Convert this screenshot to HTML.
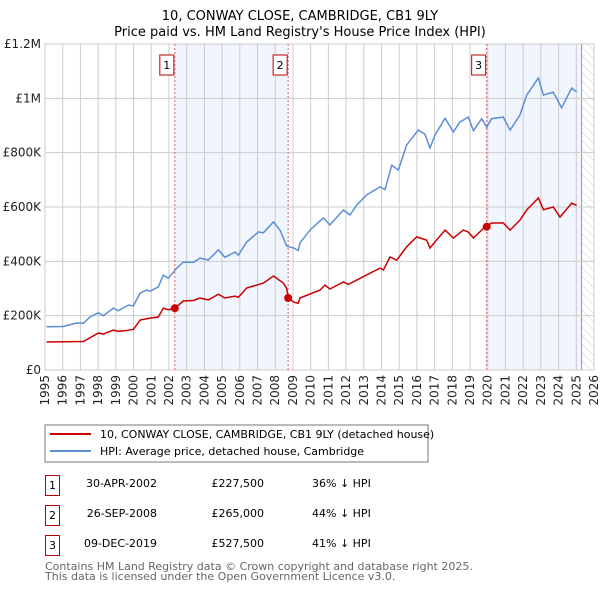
<!DOCTYPE html>
<html><head><meta charset="utf-8"><style>
body{margin:0;background:#fff;}
svg{display:block;font-family:"DejaVu Sans","Liberation Sans",sans-serif;}
</style></head><body>
<svg id="chart" width="600" height="590" viewBox="0 0 600 590" xmlns="http://www.w3.org/2000/svg">
<defs>
<pattern id="hatch" width="6" height="6" patternUnits="userSpaceOnUse" patternTransform="rotate(-45)">
<line x1="0" y1="0" x2="0" y2="6" stroke="#ccc" stroke-width="1"/>
</pattern>
</defs>
<text x="300" y="20" text-anchor="middle" font-size="13" fill="#000">10, CONWAY CLOSE, CAMBRIDGE, CB1 9LY</text>
<text x="300" y="36" text-anchor="middle" font-size="13" fill="#000">Price paid vs. HM Land Registry's House Price Index (HPI)</text>
<g id="plot"></g>
<g id="legend">
<rect x="45" y="425" width="383" height="37" fill="#fff" stroke="#777"/>
<line x1="50" y1="434" x2="91" y2="434" stroke="#cc0000" stroke-width="2"/>
<text x="100" y="438" font-size="11">10, CONWAY CLOSE, CAMBRIDGE, CB1 9LY (detached house)</text>
<line x1="50" y1="451" x2="91" y2="451" stroke="#5b8fd4" stroke-width="2"/>
<text x="100" y="455" font-size="11">HPI: Average price, detached house, Cambridge</text>
</g>
<g id="table" font-size="11">
<rect x="45.5" y="475.5" width="14" height="20" fill="#fff" stroke="#b00"/>
<text x="52.5" y="489" text-anchor="middle">1</text>
<text x="157" y="487" text-anchor="end">30-APR-2002</text>
<text x="264" y="487" text-anchor="end">£227,500</text>
<text x="312" y="487">36% ↓ HPI</text>
<rect x="45.5" y="505.5" width="14" height="20" fill="#fff" stroke="#b00"/>
<text x="52.5" y="519" text-anchor="middle">2</text>
<text x="157" y="517" text-anchor="end">26-SEP-2008</text>
<text x="264" y="517" text-anchor="end">£265,000</text>
<text x="312" y="517">44% ↓ HPI</text>
<rect x="45.5" y="535.5" width="14" height="20" fill="#fff" stroke="#b00"/>
<text x="52.5" y="549" text-anchor="middle">3</text>
<text x="157" y="547" text-anchor="end">09-DEC-2019</text>
<text x="264" y="547" text-anchor="end">£527,500</text>
<text x="312" y="547">41% ↓ HPI</text>
</g>
<text x="45" y="570" font-size="11" fill="#666">Contains HM Land Registry data © Crown copyright and database right 2025.</text>
<text x="45" y="580" font-size="11" fill="#666">This data is licensed under the Open Government Licence v3.0.</text>
</svg>
<script>
const hpiYears=[1995.09,1996.03,1996.79,1997.17,1997.54,1998.01,1998.30,1998.86,1999.14,1999.71,1999.99,2000.37,2000.74,2000.93,2001.40,2001.68,2001.96,2002.44,2002.81,2003.38,2003.75,2004.22,2004.79,2005.16,2005.73,2005.92,2006.39,2007.05,2007.33,2007.90,2008.27,2008.65,2009.03,2009.30,2009.40,2009.96,2010.72,2011.09,2011.85,2012.22,2012.60,2013.16,2013.92,2014.20,2014.58,2014.95,2015.42,2016.08,2016.46,2016.74,2017.02,2017.59,2018.06,2018.43,2018.90,2019.19,2019.66,2019.94,2020.22,2020.88,2021.26,2021.82,2022.20,2022.86,2023.14,2023.70,2024.17,2024.74,2025.02];
const hpiValues=[159,160,173,172,195,210,200,228,218,239,236,283,294,290,306,349,338,375,397,396,412,405,442,415,434,423,471,508,505,545,515,456,449,440,467,515,560,534,589,571,607,644,674,664,754,736,828,883,868,817,865,927,876,913,931,881,925,894,925,931,883,939,1012,1075,1012,1023,965,1038,1023];
const ppYears=[1995.09,1997.17,1998.01,1998.30,1998.86,1999.14,1999.71,1999.99,2000.37,2000.93,2001.40,2001.68,2001.96,2002.33,2002.81,2003.38,2003.75,2004.22,2004.79,2005.16,2005.73,2005.92,2006.39,2007.33,2007.90,2008.46,2008.65,2008.73,2009.03,2009.30,2009.40,2010.53,2010.81,2011.09,2011.85,2012.13,2013.16,2013.92,2014.11,2014.48,2014.86,2015.42,2015.99,2016.55,2016.74,2017.02,2017.59,2018.06,2018.62,2018.90,2019.19,2019.85,2020.22,2020.88,2021.26,2021.82,2022.20,2022.86,2023.14,2023.70,2024.08,2024.74,2025.02];
const ppValues=[103,105,136,132,147,142,146,150,184,191,195,228,222,227.5,254,256,265,258,279,265,272,268,302,320,346,320,300,265,250,246,265,294,313,298,324,315,350,375,368,416,404,453,490,478,449,472,515,486,515,508,486,527,541,541,515,552,589,633,590,600,563,614,606];
const saleYears=[2002.33,2008.73,2019.94];
const saleValues=[227.5,265,527.5];
const saleLabels=["1","2","3"];
const yTickValues=[0,200,400,600,800,1000,1200];
const yTickLabels=["£0","£200K","£400K","£600K","£800K","£1M","£1.2M"];
const xTickYears=[1995,1996,1997,1998,1999,2000,2001,2002,2003,2004,2005,2006,2007,2008,2009,2010,2011,2012,2013,2014,2015,2016,2017,2018,2019,2020,2021,2022,2023,2024,2025,2026];

const NS="http://www.w3.org/2000/svg";
const L=45,R=594,T=44,B=370,X0=1995,X1=2026,YMAX=1200;
function sx(y){return L+(y-X0)/(X1-X0)*(R-L);}
function sy(v){return B-v/YMAX*(B-T);}
const g=document.getElementById('plot');
function mk(tag,attrs,parent){const e=document.createElementNS(NS,tag);for(const k in attrs)e.setAttribute(k,attrs[k]);(parent||g).appendChild(e);return e;}

const bg=mk('rect',{x:L,y:T,width:R-L,height:B-T,fill:'#fff'});


const s1=mk('rect',{x:sx(saleYears[0]),y:T,width:sx(saleYears[1])-sx(saleYears[0]),height:B-T,fill:'#eef3fc',opacity:0.8});


const s2=mk('rect',{x:sx(saleYears[2]),y:T,width:sx(2025.3)-sx(saleYears[2]),height:B-T,fill:'#eef3fc',opacity:0.8});


const h=mk('rect',{x:sx(2025.3),y:T,width:R-sx(2025.3),height:B-T,fill:'url(#hatch)'});


mk('line',{x1:sx(2025.3),y1:T,x2:sx(2025.3),y2:B,stroke:'#999','stroke-width':1});

yTickValues.forEach((v,i)=>{
  const ln=mk('line',{x1:L,y1:sy(v),x2:R,y2:sy(v),stroke:'#ccc','stroke-width':1});
  
  
  const t=mk('text',{x:L-4,y:sy(v)+4,'text-anchor':'end','font-size':12,fill:'#222'});
  t.textContent=yTickLabels[i];
  
  
});
xTickYears.forEach(yr=>{
  const ln=mk('line',{x1:sx(yr),y1:T,x2:sx(yr),y2:B,stroke:'#ccc','stroke-width':1});
  
  
  const t=mk('text',{x:0,y:0,'text-anchor':'end','font-size':12,fill:'#222',transform:`translate(${sx(yr)+4},${B+5}) rotate(-90)`});
  t.textContent=yr;
  
  
});
const ax=mk('rect',{x:L,y:T,width:R-L,height:B-T,fill:'none',stroke:'#ccc'});



saleYears.forEach((yr,i)=>{
  const ln=mk('line',{x1:sx(yr),y1:T,x2:sx(yr),y2:B,stroke:'#e06060','stroke-width':1,'stroke-dasharray':'2,2'});
  
  
  const bx=mk('rect',{x:sx(yr)-15,y:55,width:14,height:20,fill:'#fff',stroke:'#b00'});
  
  
  const t=mk('text',{x:sx(yr)-8,y:69,'text-anchor':'middle','font-size':11,fill:'#000'});
  t.textContent=saleLabels[i];
  
  
});

function path(xs,vs){return xs.map((x,i)=>(i?'L':'M')+sx(x).toFixed(1)+','+sy(vs[i]).toFixed(1)).join('');}
const hp=mk('path',{d:path(hpiYears,hpiValues),fill:'none',stroke:'#5b8fd4','stroke-width':1.5});


const pp=mk('path',{d:path(ppYears,ppValues),fill:'none',stroke:'#cc0000','stroke-width':1.5});


saleYears.forEach((yr,i)=>{
  const c=mk('circle',{cx:sx(yr),cy:sy(saleValues[i]),r:4,fill:'#cc0000'});
  
  
});
</script>
</body></html>
